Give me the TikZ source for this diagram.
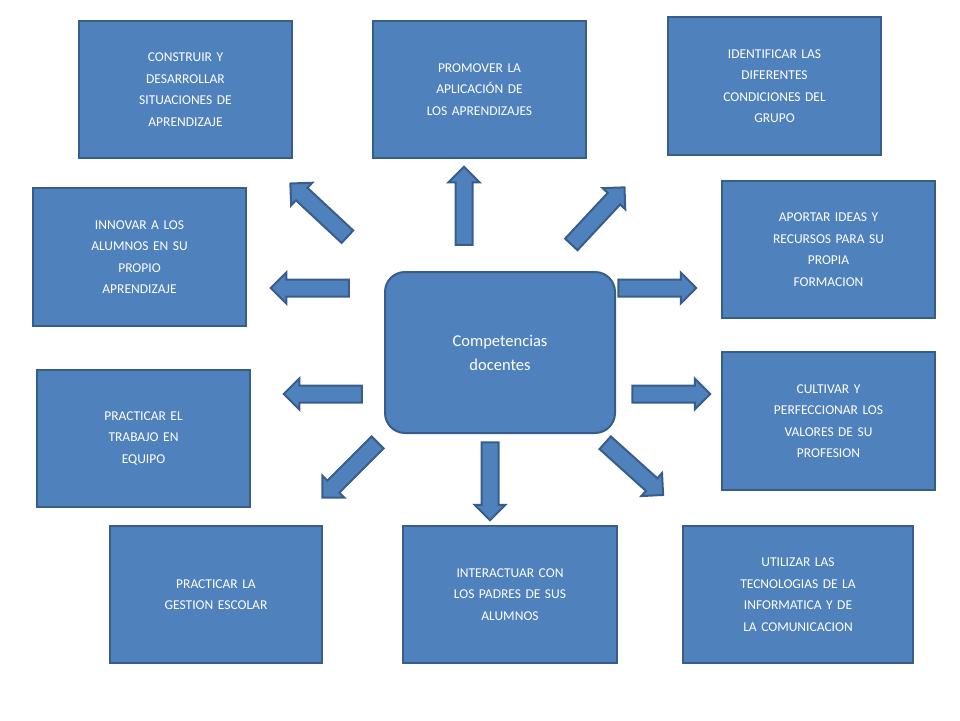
\documentclass[tikz,border=0pt]{standalone}
\usepackage{fontspec}
\setmainfont{Carlito}
\usetikzlibrary{shapes.arrows}
\definecolor{bfill}{HTML}{4F81BD}
\definecolor{bline}{HTML}{385D8A}
\tikzset{
 box/.style={draw=bline,line width=2pt,fill=bfill,text=white,align=center,font=\fontsize{13.5}{21.5}\selectfont,inner sep=0pt},
 barrow/.style={single arrow,draw=bline,line width=2pt,fill=bfill,inner sep=7.5pt,single arrow head extend=7pt,minimum height=78pt,anchor=center}
}
\begin{document}
\begin{tikzpicture}[x=1pt,y=-1pt]
\useasboundingbox (0,0) rectangle (960,720);
\newcommand{\bx}[6]{\node[box,minimum width={#4-#2},minimum height={#5-#3},text width={#4-#2-14}] (#1) at ({(#2+#4)/2},{(#3+#5)/2}) {#6};}
\bx{a}{79}{21}{292}{158}{CONSTRUIR Y\\DESARROLLAR\\SITUACIONES DE\\APRENDIZAJE}
\bx{b}{373}{21}{586}{158}{PROMOVER LA\\APLICACIÓN DE\\LOS APRENDIZAJES}
\bx{c}{668}{17}{881}{155}{IDENTIFICAR LAS\\DIFERENTES\\CONDICIONES DEL\\GRUPO}
\bx{d}{33}{188}{246}{326}{INNOVAR A LOS\\ALUMNOS EN SU\\PROPIO\\APRENDIZAJE}
\bx{e}{722}{181}{935}{318}{APORTAR IDEAS Y\\RECURSOS PARA SU\\PROPIA\\FORMACION}
\bx{f}{37}{370}{250}{507}{PRACTICAR EL\\TRABAJO EN\\EQUIPO}
\bx{g}{722}{352}{935}{490}{CULTIVAR Y\\PERFECCIONAR LOS\\VALORES DE SU\\PROFESION}
\bx{h}{110}{526}{322}{663}{PRACTICAR LA\\GESTION ESCOLAR}
\bx{i}{403}{526}{617}{663}{INTERACTUAR CON\\LOS PADRES DE SUS\\ALUMNOS}
\bx{j}{683}{526}{913}{663}{UTILIZAR LAS\\TECNOLOGIAS DE LA\\INFORMATICA Y DE\\LA COMUNICACION}
\node[box,rounded corners=20pt,minimum width=230,minimum height=161,font=\fontsize{16.5}{24}\selectfont] (ctr) at (500,352.5) {Competencias\\docentes};
\node[barrow,rotate=137] (a1) at (322,213) {};
\node[barrow,rotate=90] (a2) at (464,210) {};
\node[barrow,rotate=47] (a3) at (595,219) {};
\node[barrow,rotate=180] (a4) at (314,288) {};
\node[barrow,rotate=0] (a5) at (653,288) {};
\node[barrow,rotate=180] (a6) at (327,394) {};
\node[barrow,rotate=0] (a7) at (667,394) {};
\node[barrow,rotate=225] (a8) at (353,467) {};
\node[barrow,rotate=-90] (a9) at (490,477) {};
\node[barrow,rotate=-42] (a10) at (631,466) {};
\end{tikzpicture}
\end{document}
